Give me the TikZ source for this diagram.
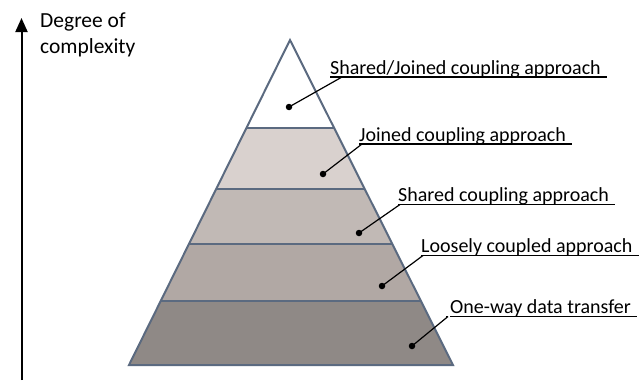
\documentclass[tikz,border=0pt]{standalone}
\usepackage{fontspec}
\setmainfont{Carlito}
\usetikzlibrary{arrows.meta}
\definecolor{edgec}{HTML}{5B6A80}
\definecolor{bandb}{HTML}{D9D1CE}
\definecolor{bandc}{HTML}{C1B9B5}
\definecolor{bandd}{HTML}{B1A8A4}
\definecolor{bande}{HTML}{8F8986}
\begin{document}
\begin{tikzpicture}[x=1pt,y=-1pt,
  lbl/.style={anchor=base west,inner sep=0pt,font=\fontsize{20}{23}\selectfont},
  leader/.style={line width=1.2pt,black},
  dot/.style={circle,fill=black,inner sep=0pt,minimum size=6.5pt},
  sep/.style={edgec,line width=2pt}]
\useasboundingbox (0,0) rectangle (639,380);
\coordinate (apex) at (290,40);
\coordinate (bl) at (129,365);
\coordinate (br) at (453,365);
\begin{scope}
\clip (apex)--(bl)--(br)--cycle;
\fill[white] (0,0) rectangle (639,128);
\fill[bandb] (0,128) rectangle (639,188.5);
\fill[bandc] (0,188.5) rectangle (639,244);
\fill[bandd] (0,244) rectangle (639,300.5);
\fill[bande] (0,300.5) rectangle (639,380);
\draw[sep] (0,128) -- (639,128);
\draw[sep] (0,188.5) -- (639,188.5);
\draw[sep] (0,244) -- (639,244);
\draw[sep] (0,300.5) -- (639,300.5);
\end{scope}
\draw[edgec,line width=2pt,line join=miter] (apex)--(bl)--(br)--cycle;
% axis
\coordinate (ab) at (21.5,380);
\coordinate (at) at (21.5,18);
\draw[line width=2pt,-{Triangle[length=14pt,width=12pt]}] (ab) -- (at);
\node[anchor=base west,inner sep=0pt,align=left,font=\fontsize{21.5}{26}\selectfont] (axl) at (40,53) {Degree of\\complexity};
% labels
\node[lbl] (t1) at (330,74) {Shared/Joined coupling approach};
\node[lbl] (t2) at (359,141) {Joined coupling approach};
\node[lbl] (t3) at (398,201.5) {Shared coupling approach};
\node[lbl] (t4) at (421,252.5) {Loosely coupled approach};
\node[lbl] (t5) at (450,313.5) {One-way data transfer};
\foreach \i in {1,...,5}{
  \draw[leader] ([yshift=-3pt]t\i.base west) -- ([xshift=6pt,yshift=-3pt]t\i.base east);
}
\coordinate (j1) at ([xshift=12pt,yshift=-3pt]t1.base west);
\coordinate (j2) at ([xshift=3pt,yshift=-3pt]t2.base west);
\coordinate (j3) at ([xshift=2pt,yshift=-3pt]t3.base west);
\coordinate (j4) at ([xshift=2pt,yshift=-3pt]t4.base west);
\coordinate (j5) at ([xshift=-2pt,yshift=-3pt]t5.base west);
\draw[leader] (j5) -- +(-2,0);
\node[dot] (d1) at (289,107) {};
\node[dot] (d2) at (323,174) {};
\node[dot] (d3) at (359,233) {};
\node[dot] (d4) at (382,286) {};
\node[dot] (d5) at (412,346) {};
\foreach \i in {1,...,5}{
  \draw[leader] (d\i.center) -- (j\i);
}
\end{tikzpicture}
\end{document}
